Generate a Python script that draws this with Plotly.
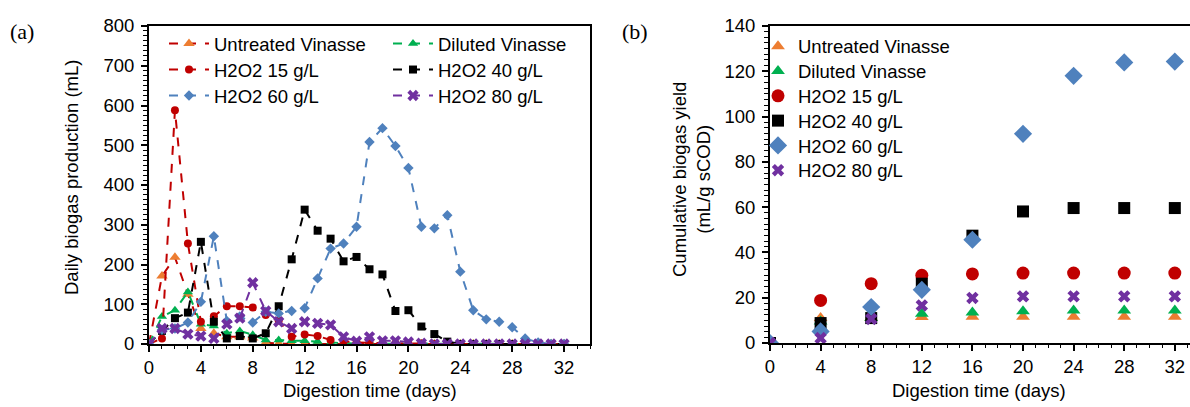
import plotly.graph_objects as go

# ---------------- data: panel (a) daily biogas production (mL) ----------------
days_a = list(range(0, 33))
untreated_daily = [0, 171, 218, 125, 39, 27, 18, 18, 15, 3, 1, 0, 0, 0, 0, 0, 0,
                   0, 0, 0, 0, 0, 0, 0, 0, 0, 0, 0, 0, 0, 0, 0, 0]
diluted_daily = [0, 69, 85, 131, 50, 45, 27, 33, 23, 10, 10, 8, 8, 6, 3, 2, 1,
                 1, 0, 0, 0, 0, 0, 0, 0, 0, 0, 0, 0, 0, 0, 0, 0]
h15_daily = [0, 14, 588, 253, 56, 70, 95, 95, 92, 73, 59, 18, 24, 20, 10, 7, 4,
             3, 2, 2, 1, 1, 0, 0, 0, 0, 0, 0, 0, 0, 0, 0, 0]
h40_daily = [0, 33, 65, 79, 257, 56, 14, 20, 14, 27, 95, 213, 338, 285, 265, 208, 219,
             188, 175, 83, 85, 44, 25, 6, 0, 0, 0, 0, 0, 0, 0, 0, 0]
h60_daily = [0, 36, 39, 54, 106, 271, 58, 69, 54, 81, 77, 83, 90, 165, 240, 253, 295,
             508, 543, 498, 443, 295, 291, 324, 182, 85, 62, 56, 42, 14, 4, 0, 0]
h80_daily = [0, 39, 39, 25, 20, 14, 50, 65, 154, 83, 56, 39, 56, 52, 48, 18, 7,
             18, 8, 8, 5, 2, 0, 0, 0, 0, 0, 0, 0, 0, 0, 0, 0]

# ---------------- data: panel (b) cumulative biogas yield (mL/g sCOD) ----------------
days_b = [0, 4, 8, 12, 16, 20, 24, 28, 32]
untreated_cum = [0, 11.0, 11.2, 11.5, 11.6, 11.6, 11.6, 11.6, 11.6]
diluted_cum = [0, 9.5, 11.0, 12.9, 13.5, 14.0, 14.4, 14.4, 14.4]
h15_cum = [0, 18.8, 26.2, 29.9, 30.5, 30.9, 30.9, 30.9, 30.9]
h40_cum = [0, 8.8, 11.0, 26.2, 47.4, 58.1, 59.6, 59.6, 59.6]
h60_cum = [0, 5.1, 15.9, 23.5, 45.6, 92.4, 118.0, 123.9, 124.3]
h80_cum = [0, 2.2, 10.6, 16.6, 19.9, 20.6, 20.6, 20.6, 20.6]

names = ["Untreated Vinasse", "Diluted Vinasse", "H2O2 15 g/L",
         "H2O2 40 g/L", "H2O2 60 g/L", "H2O2 80 g/L"]

ORANGE = "#ED7D31"
GREEN = "#00B050"
RED = "#C00000"
BLACK = "#000000"
BLUE = "#4F81BD"
PURPLE = "#7030A0"

FONT = "Liberation Sans, Arial, sans-serif"
FS = 18.5

W, H = 1190, 407
def px_x(p):
    return p / W
def px_y(p):
    return 1 - p / H

fig = go.Figure()
legends = {}

def add_legend(key, x, y, itemwidth):
    legends[key] = dict(
        x=px_x(x), y=px_y(y), xanchor="left", yanchor="middle",
        bgcolor="rgba(0,0,0,0)", font=dict(family=FONT, size=FS, color="#000"),
        itemwidth=itemwidth, borderwidth=0, visible=True,
    )

# panel (a) series: (name, values, line colour, marker colour, symbol, size)
series_a = [
    (names[0], untreated_daily, RED, ORANGE, "triangle-up", 10),
    (names[1], diluted_daily, GREEN, GREEN, "triangle-up", 9),
    (names[2], h15_daily, RED, RED, "circle", 8),
    (names[3], h40_daily, BLACK, BLACK, "square", 8),
    (names[4], h60_daily, BLUE, BLUE, "diamond", 8),
    (names[5], h80_daily, PURPLE, PURPLE, "x", 10),
]
# legend layout for panel (a): 2 columns x 3 rows
col_x_a = [164, 388]
row_y_a = [44, 70, 96]
for i, (nm, vals, lc, mc, sym, sz) in enumerate(series_a):
    key = f"legend{i + 2}"
    add_legend(key, col_x_a[i % 2], row_y_a[i // 2], 40)
    fig.add_trace(go.Scatter(
        x=days_a, y=vals, name=nm, mode="lines+markers", showlegend=True,
        line=dict(color=lc, width=2, dash="dash"),
        marker=dict(color=mc, symbol=sym, size=sz, line=dict(width=0)),
        xaxis="x", yaxis="y", legend=key,
    ))

series_b = [
    (names[0], untreated_cum, ORANGE, "triangle-up", 12),
    (names[1], diluted_cum, GREEN, "triangle-up", 12),
    (names[2], h15_cum, RED, "circle", 13),
    (names[3], h40_cum, BLACK, "square", 12),
    (names[4], h60_cum, BLUE, "diamond", 14),
    (names[5], h80_cum, PURPLE, "x", 11),
]
for j, (nm, vals, mc, sym, sz) in enumerate(series_b):
    key = f"legend{j + 8}"
    add_legend(key, 758, 46.7 + 24.8 * j, 30)
    fig.add_trace(go.Scatter(
        x=days_b, y=vals, name=nm, mode="markers", showlegend=True,
        marker=dict(color=mc, symbol=sym, size=sz, line=dict(width=0)),
        xaxis="x2", yaxis="y2", legend=key,
    ))

axis_common = dict(
    showline=True, linecolor="black", linewidth=2, mirror=True,
    showgrid=False, zeroline=False, automargin=False,
    ticks="outside", ticklen=6, tickwidth=1.5, tickcolor="black",
    tickfont=dict(family=FONT, size=FS, color="#000"),
)

title_font = dict(family=FONT, size=FS, color="#000")

fig.update_layout(
    width=W, height=H,
    margin=dict(l=0, r=0, t=0, b=0),
    paper_bgcolor="white", plot_bgcolor="white",
    showlegend=True,
    font=dict(family=FONT, size=FS, color="#000"),
    xaxis=dict(
        **axis_common, domain=[px_x(149), px_x(590)], range=[0, 34],
        tick0=0, dtick=4, anchor="y", ticklabelstandoff=0,
        minor=dict(ticks="outside", ticklen=3, dtick=1, tickcolor="black", tickwidth=1),
    ),
    yaxis=dict(
        **axis_common, domain=[px_y(344), px_y(26)], range=[0, 800],
        tick0=0, dtick=100, anchor="x", ticklabelstandoff=3,
        minor=dict(ticks="outside", ticklen=4, dtick=12.5, tickcolor="black", tickwidth=1),
    ),
    xaxis2=dict(
        **axis_common, domain=[px_x(770), 1.0], range=[0, 33.2],
        tick0=0, dtick=4, anchor="y2", ticklabelstandoff=0,
        minor=dict(ticks="outside", ticklen=3, dtick=1, tickcolor="black", tickwidth=1),
    ),
    yaxis2=dict(
        **axis_common, domain=[px_y(343), px_y(26)], range=[0, 140],
        tick0=0, dtick=20, anchor="x2", ticklabelstandoff=3,
        minor=dict(ticks="outside", ticklen=4, dtick=2.5, tickcolor="black", tickwidth=1),
    ),
    annotations=[
        dict(text="(a)", x=px_x(8), y=px_y(31), xref="paper", yref="paper",
             xanchor="left", yanchor="middle", showarrow=False,
             font=dict(family="Liberation Serif, Times New Roman, serif", size=22)),
        dict(text="(b)", x=px_x(620), y=px_y(31), xref="paper", yref="paper",
             xanchor="left", yanchor="middle", showarrow=False,
             font=dict(family="Liberation Serif, Times New Roman, serif", size=22)),
        # axis titles
        dict(text="Digestion time (days)", x=px_x(370), y=px_y(390),
             xref="paper", yref="paper", xanchor="center", yanchor="middle",
             showarrow=False, font=title_font),
        dict(text="Digestion time (days)", x=px_x(979), y=px_y(390),
             xref="paper", yref="paper", xanchor="center", yanchor="middle",
             showarrow=False, font=title_font),
        dict(text="Daily biogas production (mL)", x=px_x(72), y=px_y(178),
             xref="paper", yref="paper", xanchor="center", yanchor="middle",
             textangle=-90, showarrow=False, font=title_font),
        dict(text="Cumulative biogas yield<br>(mL/g sCOD)", x=px_x(691), y=px_y(180),
             xref="paper", yref="paper", xanchor="center", yanchor="middle",
             textangle=-90, showarrow=False, font=title_font),
    ],
    **legends,
)

fig.write_html("out.html", config={"displayModeBar": False},
               post_script="document.body.style.margin='0';")
